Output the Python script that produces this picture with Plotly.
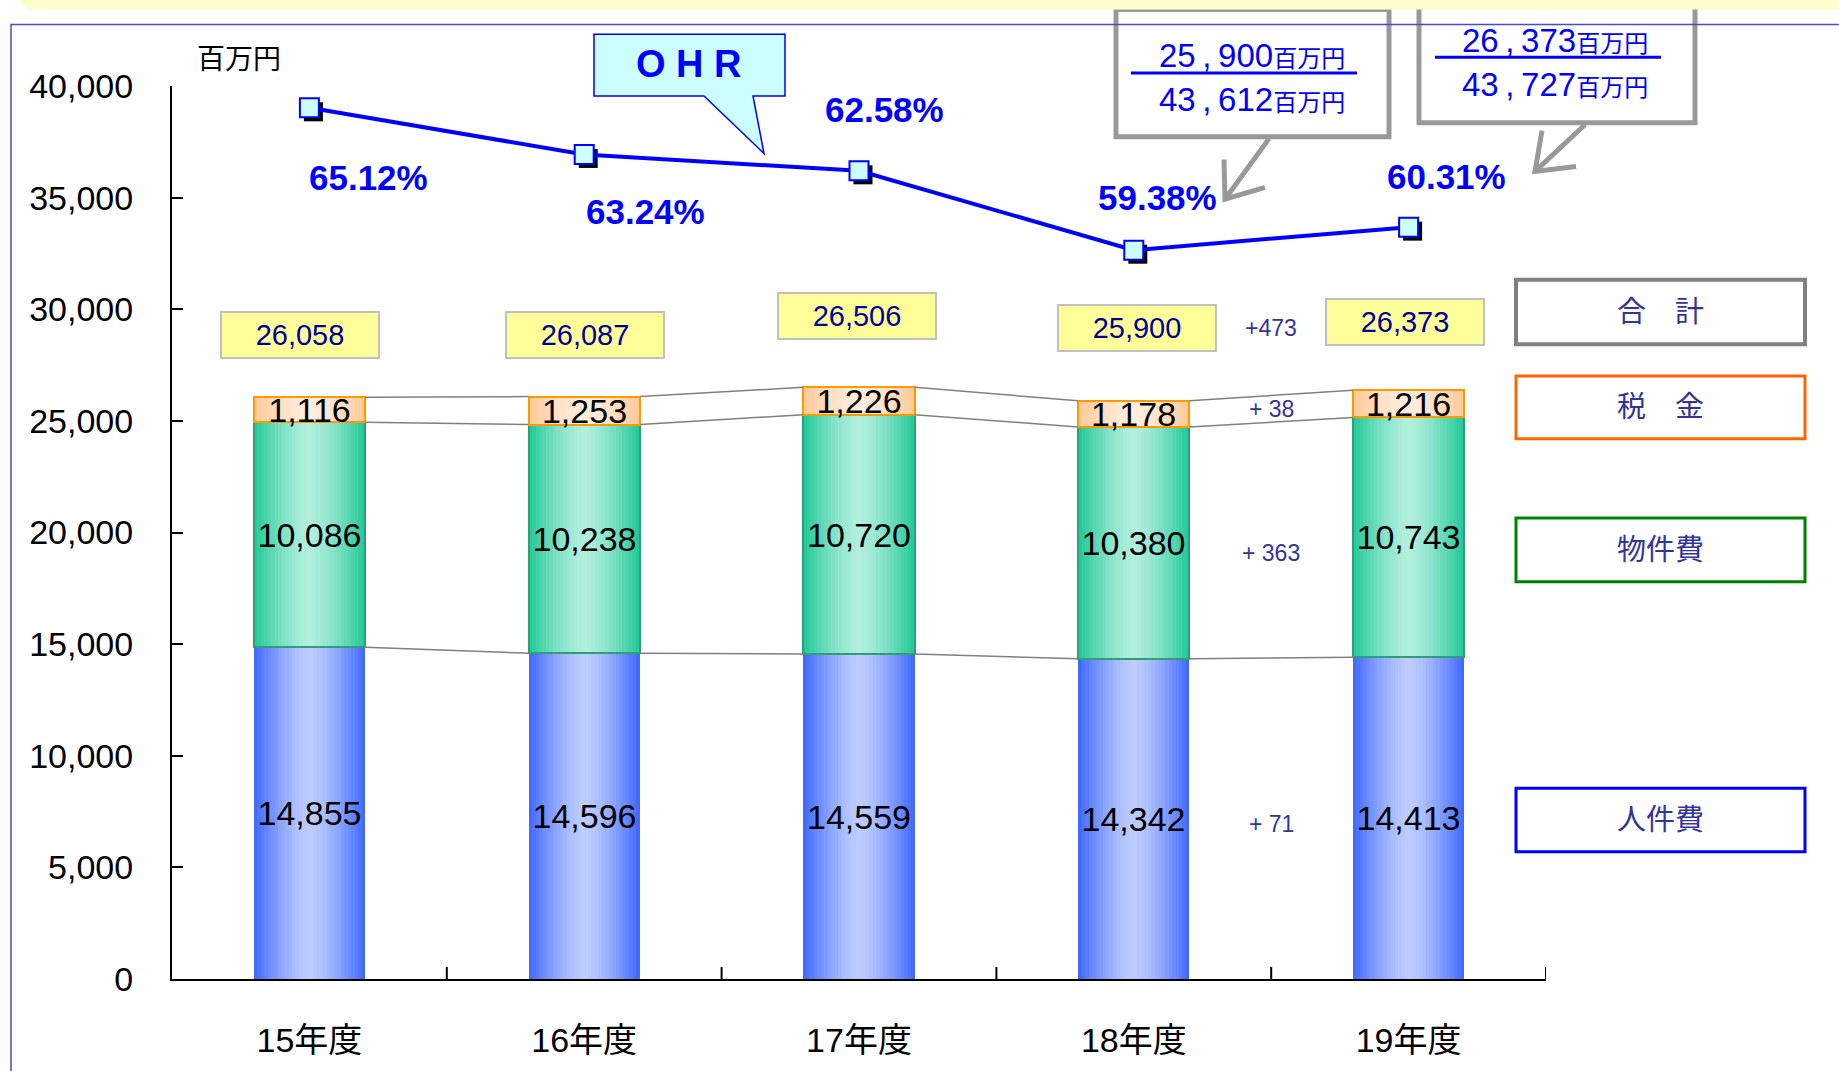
import plotly.graph_objects as go

# ---------------- data ----------------
years = ["15年度", "16年度", "17年度", "18年度", "19年度"]
personnel = [14855, 14596, 14559, 14342, 14413]   # 人件費
materials = [10086, 10238, 10720, 10380, 10743]   # 物件費
taxes = [1116, 1253, 1226, 1178, 1216]            # 税金
totals = [26058, 26087, 26506, 25900, 26373]      # 合計
ohr = [65.12, 63.24, 62.58, 59.38, 60.31]         # OHR (%)
ohr_num = [25900, 26373]                          # 18, 19年度 経費
ohr_den = [43612, 43727]                          # 18, 19年度 業務粗利益
legend_names = ["合　計", "税　金", "物件費", "人件費"]
unit_label = "百万円"

# ---------------- layout helpers ----------------
W, H = 1839, 1071
L, R, T, B = 172, 293, 86, 86
PW, PH = W - L - R, H - T - B
FONT = "Liberation Sans, Arial, Noto Sans CJK JP, sans-serif"


def px(x):
    return (x - L) / PW


def py(y):
    return (H - B - y) / PH


def mix(c1, c2, t):
    return "rgb(%d,%d,%d)" % tuple(round(a + (b - a) * t) for a, b in zip(c1, c2))


xs = list(range(len(years)))
BW = 0.405
NL = 16

base_p = [0] * 5
base_m = personnel[:]
base_t = [p + m for p, m in zip(personnel, materials)]
top_t = [b + t for b, t in zip(base_t, taxes)]

segments = [
    (personnel, base_p, (61, 102, 255), (190, 205, 255), "rgba(0,0,0,0)", 0),
    (materials, base_m, (30, 200, 150), (178, 239, 222), "#2f9e72", 2),
    (taxes, base_t, (255, 200, 150), (255, 238, 222), "#ff9900", 2),
]

fig = go.Figure()

for vals, base, edge, light, oc, ow in segments:
    for k in range(NL):
        s = 1 - k / NL
        d = s - 0.5 / NL
        col = mix(light, edge, d ** 1.4)
        fig.add_bar(x=xs, y=vals, base=base, width=BW * s, marker_color=col,
                    marker_line_width=0, showlegend=False, hoverinfo="skip")

# connector lines between bars
for lvl in (personnel, base_t, top_t):
    cx, cy = [], []
    for i in range(len(xs) - 1):
        cx += [xs[i] + BW / 2, xs[i + 1] - BW / 2, None]
        cy += [lvl[i], lvl[i + 1], None]
    fig.add_scatter(x=cx, y=cy, mode="lines", line=dict(color="#808080", width=1.5),
                    showlegend=False, hoverinfo="skip")

# outlines + value labels
for vals, base, edge, light, oc, ow in segments:
    fig.add_bar(x=xs, y=vals, base=base, width=BW,
                marker=dict(color="rgba(0,0,0,0)", line=dict(color=oc, width=ow)),
                text=[f"{v:,}" for v in vals], textposition="inside",
                insidetextanchor="middle", textangle=0, constraintext="none",
                insidetextfont=dict(color="black", size=34, family=FONT),
                showlegend=False, hoverinfo="skip")

# OHR line (secondary axis) with marker shadow
Y2 = [30, 66]
dx = 4 / (PW / 5)
dy = 4 * (Y2[1] - Y2[0]) / PH
fig.add_scatter(x=[v + dx for v in xs], y=[v - dy for v in ohr], yaxis="y2", mode="markers",
                marker=dict(symbol="square", size=19, color="black"),
                showlegend=False, hoverinfo="skip")
fig.add_scatter(x=xs, y=ohr, yaxis="y2", mode="lines+markers",
                line=dict(color="#0000ff", width=4),
                marker=dict(symbol="square", size=19, color="#ccffff",
                            line=dict(color="#0000ff", width=2)),
                showlegend=False, hoverinfo="skip")

ann = []


def paper_text(x, y, text, size, color, bold=False):
    return dict(x=px(x), y=py(y), xref="paper", yref="paper", xanchor="center", yanchor="middle",
                text=("<b>%s</b>" % text) if bold else text, showarrow=False,
                font=dict(size=size, color=color, family=FONT))


# percentage labels
pshift = [(59, -70), (61, -57), (25, 61), (24, 53), (38, 51)]
for i, v in enumerate(ohr):
    ann.append(dict(x=xs[i], y=v, xref="x", yref="y2", xshift=pshift[i][0], yshift=pshift[i][1],
                    xanchor="center", yanchor="middle",
                    text=f"<b>{v:.2f}%</b>", showarrow=False,
                    font=dict(size=35, color="#0000ff", family=FONT)))

# total boxes
tshift = [(-9, 62), (1, 62), (-2, 71), (3, 73), (-4, 68)]
for i, v in enumerate(totals):
    ann.append(dict(x=xs[i], y=top_t[i], xref="x", yref="y", xshift=tshift[i][0], yshift=tshift[i][1],
                    xanchor="center", yanchor="middle",
                    text=f"{v:,}", showarrow=False, width=156, height=44,
                    bgcolor="#ffff99", bordercolor="#c0c0c0", borderwidth=2, borderpad=0,
                    font=dict(size=29, color="#000099", family=FONT)))

# differences 18 -> 19
diff_items = [
    (f"+{totals[4] - totals[3]}", (totals[3] + totals[4]) / 2, 68),
    (f"+ {taxes[4] - taxes[3]}", (base_t[3] + top_t[3] + base_t[4] + top_t[4]) / 4, 0),
    (f"+ {materials[4] - materials[3]}", (base_m[3] + base_t[3] + base_m[4] + base_t[4]) / 4, -13),
    (f"+ {personnel[4] - personnel[3]}", (personnel[3] + personnel[4]) / 4, -5),
]
for txt, yv, ys in diff_items:
    ann.append(dict(x=3.5, y=yv, xref="x", yref="y", yshift=ys, text=txt, showarrow=False,
                    xanchor="center", yanchor="middle",
                    font=dict(size=23, color="#333399", family=FONT)))

# unit label
ann.append(paper_text(239, 59, unit_label, 28, "black"))

# OHR callout text
ann.append(paper_text(689, 64, "O H R", 38, "#0000ff", bold=True))

# fraction callouts
small = "<span style='font-size:24px'>%s</span>" % unit_label


def fmt(n):
    s = f"{n:,}"
    return s.replace(",", "\u2009,\u2009")


for (cx, y1, y2), num, den in zip([(1252, 55, 100), (1555, 40, 84)], ohr_num, ohr_den):
    ann.append(paper_text(cx, y1, fmt(num) + small, 33, "#0000ff"))
    ann.append(paper_text(cx, y2, fmt(den) + small, 33, "#0000ff"))

# legend-like boxes
leg_boxes = [(281, 346, "#808080", 4), (378, 441, "#ff6600", 3), (521, 585, "#008000", 3), (793, 857, "#0000ff", 3)]
shapes = []
# top yellow band and outer frame
band = "M %f,%f L %f,%f L %f,%f L %f,%f Q %f,%f %f,%f Z" % (
    px(17), py(-20), px(1850), py(-20), px(1850), py(9), px(37), py(9), px(17), py(9), px(17), py(-10))
shapes.append(dict(type="path", path=band, xref="paper", yref="paper", fillcolor="#ffffcc",
                   line=dict(width=0)))
shapes.append(dict(type="rect", xref="paper", yref="paper", x0=px(11), y0=py(1090), x1=px(1860), y1=py(24),
                   line=dict(color="#4a4ad8", width=1.5)))

for (y0, y1, col, lw), name in zip(leg_boxes, legend_names):
    shapes.append(dict(type="rect", xref="paper", yref="paper", x0=px(1516), x1=px(1805),
                       y0=py(y1), y1=py(y0), line=dict(color=col, width=lw), fillcolor="white"))
    ann.append(paper_text(1660, (y0 + y1) / 2, name, 29, "#333399"))

# OHR speech bubble
pts = [(594, 34), (785, 34), (785, 96), (753, 96), (764, 154), (704, 96), (594, 96)]
bub = "M " + " L ".join("%f,%f" % (px(a), py(b)) for a, b in pts) + " Z"
shapes.append(dict(type="path", path=bub, xref="paper", yref="paper", fillcolor="#ccffff",
                   line=dict(color="#0000ff", width=1.5), layer="below"))

# fraction boxes
for x0, y0, x1, y1 in [(1116, 9, 1389, 137), (1419, -20, 1695, 123)]:
    shapes.append(dict(type="rect", xref="paper", yref="paper", x0=px(x0), x1=px(x1), y0=py(y1), y1=py(y0),
                       line=dict(color="#999999", width=5), fillcolor="white", layer="below"))
for x0, x1, yy in [(1131, 1357, 73), (1435, 1661, 57)]:
    shapes.append(dict(type="line", xref="paper", yref="paper", x0=px(x0), x1=px(x1), y0=py(yy), y1=py(yy),
                       line=dict(color="#0000ff", width=3)))
# arrows
for seg in [[(1269, 139), (1225, 200), None, (1224, 160), (1225, 200), (1265, 188)],
            [(1585, 125), (1535, 172), None, (1542, 131), (1535, 172), (1576, 167)]]:
    path, cmd = "", "M"
    for p in seg:
        if p is None:
            cmd = "M"
            continue
        path += "%s %f,%f " % (cmd, px(p[0]), py(p[1]))
        cmd = "L"
    shapes.append(dict(type="path", path=path, xref="paper", yref="paper",
                       line=dict(color="#999999", width=5)))

# x boundary tick marks (inside)
for k in range(len(xs)):
    shapes.append(dict(type="line", xref="x", yref="paper", x0=k + 0.5, x1=k + 0.5, y0=0, y1=12 / PH,
                       line=dict(color="black", width=2)))

fig.update_layout(
    width=W, height=H,
    margin=dict(l=L, r=R, t=T, b=B),
    paper_bgcolor="white", plot_bgcolor="white",
    barmode="overlay", bargap=0,
    font=dict(family=FONT, color="black"),
    xaxis=dict(range=[-0.5, 4.5], tickvals=xs, ticktext=years, ticks="", showline=True,
               linecolor="black", linewidth=2, showgrid=False, zeroline=False,
               tickfont=dict(size=34, color="black", family=FONT), ticklabelstandoff=30),
    yaxis=dict(range=[0, 40000], tickvals=list(range(0, 40001, 5000)), tickformat=",d",
               ticks="inside", ticklen=11, tickwidth=2, tickcolor="black", showline=True,
               linecolor="black", linewidth=2, showgrid=False, zeroline=False,
               tickfont=dict(size=34, color="black", family=FONT), ticklabelstandoff=30),
    yaxis2=dict(range=Y2, overlaying="y", side="right", visible=False),
    annotations=ann,
    shapes=shapes,
    showlegend=False,
)

fig.write_html("out.html", config={"displayModeBar": False},
               post_script="document.body.style.margin='0';document.body.style.overflow='hidden';")
